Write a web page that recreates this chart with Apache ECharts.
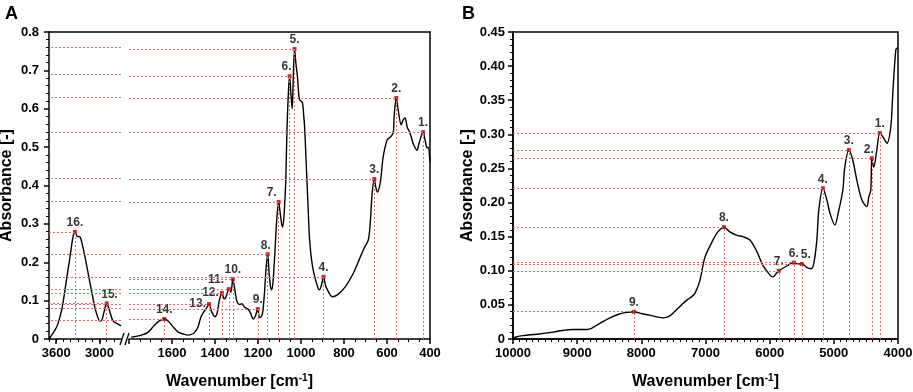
<!DOCTYPE html>
<html>
<head>
<meta charset="utf-8">
<script src="https://cdn.jsdelivr.net/npm/echarts@6.0.0/dist/echarts.min.js"></script>
<style>
  html, body { margin: 0; padding: 0; background: #fff; }
  #chart { width: 913px; height: 392px; }
</style>
</head>
<body>
<div id="chart"></div>
<script>
// ---- panel A, high-wavenumber segment (3700-2700 cm-1)
const wnA1 = [3700, 3617, 3575, 3519, 3478, 3436, 3408, 3367, 3340, 3311, 3269, 3242, 3200, 3131, 3061, 3019, 2992, 2964, 2936, 2900, 2853, 2811, 2742, 2700];
const absA1 = [0.000, 0.023, 0.040, 0.080, 0.128, 0.180, 0.214, 0.266, 0.279, 0.268, 0.266, 0.250, 0.214, 0.146, 0.081, 0.055, 0.047, 0.050, 0.070, 0.093, 0.070, 0.047, 0.039, 0.034];

// ---- panel A, fingerprint segment (1800-400 cm-1)
const wnA2 = [1790, 1743, 1710, 1682, 1659, 1636, 1618, 1594, 1571, 1548,
  1525, 1510, 1497, 1480, 1465, 1451, 1440, 1428, 1415, 1400,
  1390, 1380, 1368, 1358, 1350, 1335, 1326, 1317, 1308, 1298,
  1285, 1275, 1262, 1247, 1235, 1222, 1212, 1201, 1193, 1185,
  1178, 1170, 1163, 1155, 1148, 1141, 1136, 1130, 1122, 1113,
  1104, 1097, 1090, 1085, 1078, 1071, 1065, 1058, 1053, 1047,
  1041, 1036, 1030, 1024, 1016, 1008, 1000, 993, 987, 983,
  976, 969, 960, 946, 923, 914, 905, 895, 886, 877,
  854, 831, 794, 756, 724, 706, 687, 678, 669, 659,
  652, 645, 631, 618, 599, 585, 571, 567, 557, 548,
  534, 525, 516, 506, 493, 479, 460, 451, 432, 423,
  414, 409, 400];
const absA2 = [0.005, 0.010, 0.018, 0.036, 0.047, 0.052, 0.047, 0.031, 0.018, 0.013,
  0.010, 0.012, 0.016, 0.030, 0.058, 0.072, 0.080, 0.091, 0.070, 0.058,
  0.068, 0.100, 0.120, 0.105, 0.108, 0.130, 0.122, 0.156, 0.130, 0.098,
  0.090, 0.092, 0.083, 0.078, 0.068, 0.052, 0.060, 0.078, 0.056, 0.058,
  0.070, 0.120, 0.180, 0.221, 0.170, 0.133, 0.128, 0.150, 0.220, 0.310,
  0.357, 0.330, 0.300, 0.292, 0.330, 0.410, 0.550, 0.650, 0.685, 0.640,
  0.600, 0.680, 0.756, 0.720, 0.680, 0.625, 0.620, 0.615, 0.580, 0.550,
  0.460, 0.370, 0.260, 0.188, 0.136, 0.128, 0.140, 0.162, 0.140, 0.128,
  0.110, 0.115, 0.136, 0.172, 0.214, 0.237, 0.258, 0.302, 0.380, 0.417,
  0.395, 0.383, 0.409, 0.474, 0.519, 0.526, 0.537, 0.579, 0.628, 0.597,
  0.558, 0.571, 0.576, 0.552, 0.537, 0.511, 0.492, 0.510, 0.539, 0.519,
  0.498, 0.500, 0.461];

// ---- panel A peaks
const peakNumA = [1, 2, 3, 4, 5, 6, 7, 8, 9, 10, 11, 12, 13, 14, 15, 16];
const peakWnA = [432, 557, 659, 895, 1030, 1053, 1104, 1155, 1201, 1317, 1335, 1368, 1428, 1636, 2900, 3340];
const peakAbsA = [0.539, 0.628, 0.417, 0.162, 0.756, 0.685, 0.357, 0.221, 0.078, 0.156, 0.130, 0.120, 0.091, 0.052, 0.093, 0.279];

// ---- panel B spectrum (10000-4000 cm-1)
const wnB = [10000, 9953, 9844, 9626, 9377, 9268, 9065, 8847, 8769, 8645,
  8489, 8333, 8224, 8115, 7991, 7866, 7741, 7664, 7555, 7430,
  7352, 7290, 7243, 7165, 7087, 7009, 6900, 6807, 6713, 6620,
  6511, 6417, 6308, 6199, 6106, 5997, 5950, 5888, 5857, 5732,
  5623, 5561, 5498, 5421, 5358, 5312, 5265, 5234, 5171, 5109,
  5062, 4984, 4922, 4860, 4829, 4766, 4704, 4642, 4564, 4486,
  4455, 4424, 4408, 4377, 4330, 4283, 4221, 4174, 4112, 4081,
  4034, 4010];
const absB = [0.001, 0.003, 0.005, 0.007, 0.010, 0.012, 0.014, 0.014, 0.016, 0.023,
  0.031, 0.037, 0.039, 0.040, 0.037, 0.035, 0.032, 0.031, 0.034, 0.045,
  0.052, 0.057, 0.060, 0.067, 0.086, 0.120, 0.142, 0.157, 0.164, 0.157,
  0.152, 0.150, 0.145, 0.128, 0.108, 0.094, 0.091, 0.097, 0.100, 0.107,
  0.112, 0.110, 0.110, 0.105, 0.103, 0.111, 0.145, 0.189, 0.221, 0.204,
  0.185, 0.167, 0.189, 0.218, 0.252, 0.277, 0.262, 0.233, 0.204, 0.194,
  0.208, 0.218, 0.265, 0.252, 0.277, 0.302, 0.294, 0.287, 0.311, 0.360,
  0.424, 0.427];

// ---- panel B peaks
const peakNumB = [1, 2, 3, 4, 5, 6, 7, 8, 9];
const peakWnB = [4283, 4408, 4766, 5171, 5498, 5623, 5857, 6713, 8115];
const peakAbsB = [0.302, 0.265, 0.277, 0.221, 0.110, 0.112, 0.100, 0.164, 0.040];

// tick labels
const ticksA1 = [3600, 3000];
const ticksA2 = [400, 600, 800, 1000, 1200, 1400, 1600];

// label placement tweaks (style only)
const placeA = {
    6: { off: [-3, 0] }, 7: { off: [-7, 0] }, 8: { off: [-2, 0] },
    11: { pos: 'left', off: [-2, -9] }, 12: { pos: 'left' }, 13: { pos: 'left' },
    15: { off: [3, 0] }
};
const placeB = { 2: { off: [-3, 0] }, 5: { off: [4, 0] } };

const FONT = '"Liberation Sans", Arial, Helvetica, sans-serif';
const RED = '#e26b6b';
const GUIDE = { type: [2, 2], color: RED, width: 1, opacity: 1 };
const BLACK = { color: '#000', width: 1.5 };
const tickText = { fontFamily: FONT, fontWeight: 'bold', fontSize: 13, color: '#000', formatter: v => String(v) };
const nameText = {
    fontFamily: FONT, fontWeight: 'bold', fontSize: 16, color: '#000',
    rich: { sup: { fontFamily: FONT, fontWeight: 'bold', fontSize: 10, color: '#000', verticalAlign: 'top', padding: [0, 0, 7, 0] } }
};

function pairs(xs, ys) {
    return xs.map((x, i) => [x, ys[i]]);
}

function peakItems(nums, wns, abss, place) {
    return nums.map((n, i) => {
        const p = place[n] || {};
        return { value: [wns[i], abss[i], n], label: { position: p.pos || 'top', offset: p.off || [0, 0] } };
    });
}

// vertical line down to 0 and horizontal line back to the y edge
function guideLines(wns, abss, xEdge) {
    const out = [];
    wns.forEach((w, i) => {
        out.push([{ coord: [w, 0], lineStyle: GUIDE }, { coord: [w, abss[i]] }]);
        out.push([{ coord: [xEdge, abss[i]], lineStyle: GUIDE }, { coord: [w, abss[i]] }]);
    });
    return out;
}

function guideSeries(xi, yi, data) {
    return {
        type: 'line', xAxisIndex: xi, yAxisIndex: yi, data: [], silent: true, z: 1,
        color: RED, itemStyle: { color: RED }, lineStyle: { color: RED },
        markLine: {
            silent: true, symbol: 'none', animation: false,
            label: { show: false }, emphasis: { disabled: true },
            itemStyle: { color: RED },
            lineStyle: GUIDE, data: data
        }
    };
}

function curveSeries(xi, yi, data) {
    return {
        type: 'line', xAxisIndex: xi, yAxisIndex: yi, data: data,
        showSymbol: false, symbol: 'none', smooth: 0.3, silent: true, z: 3,
        lineStyle: { color: '#000', width: 1.4 }
    };
}

function peakSeries(xi, yi, data) {
    return {
        type: 'scatter', xAxisIndex: xi, yAxisIndex: yi, data: data,
        symbol: 'rect', symbolSize: 4, silent: true, z: 4,
        itemStyle: { color: '#c00000' },
        label: {
            show: true, distance: 1, formatter: p => p.value[2] + '.',
            fontFamily: FONT, fontWeight: 'bold', fontSize: 12, color: '#000'
        }
    };
}

// split panel A peaks over the two axis segments
const leftIdx = peakWnA.map((w, i) => i).filter(i => peakWnA[i] > 2000);
const rightIdx = peakWnA.map((w, i) => i).filter(i => peakWnA[i] <= 2000);
const pick = (arr, idx) => idx.map(i => arr[i]);

const chart = echarts.init(document.getElementById('chart'));

const option = {
    animation: false,
    backgroundColor: '#fff',
    title: [
        { text: 'A', left: 0, top: 0, textStyle: { fontFamily: FONT, fontWeight: 'bold', fontSize: 18, color: '#000' } },
        { text: 'B', left: 457, top: 0, textStyle: { fontFamily: FONT, fontWeight: 'bold', fontSize: 18, color: '#000' } }
    ],
    grid: [
        { left: 49, top: 32, width: 72, height: 307, outerBoundsMode: 'none' },   // A 3700-2700
        { left: 129, top: 32, width: 301, height: 307, outerBoundsMode: 'none' }, // A 1800-400
        { left: 49, top: 32, width: 381, height: 307, outerBoundsMode: 'none' },  // A frame
        { left: 513, top: 32, width: 385, height: 307, outerBoundsMode: 'none',
          show: true, borderColor: '#000', borderWidth: 1.5 }                     // B
    ],
    xAxis: [
        {
            gridIndex: 0, type: 'value', inverse: true, min: 2700, max: 3700, position: 'bottom',
            axisLine: { lineStyle: BLACK },
            axisTick: { customValues: ticksA1, length: 5, lineStyle: BLACK },
            axisLabel: { customValues: ticksA1, margin: 8, ...tickText },
            splitLine: { show: false }
        },
        {
            gridIndex: 0, type: 'value', inverse: true, min: 2700, max: 3700, interval: 100, position: 'bottom',
            axisLine: { show: false },
            axisTick: { length: 3, lineStyle: { color: '#000', width: 1 } },
            axisLabel: { show: false },
            splitLine: { show: false }
        },
        {
            gridIndex: 1, type: 'value', inverse: true, min: 400, max: 1800, interval: 200, position: 'bottom',
            axisLine: { lineStyle: BLACK },
            axisTick: { length: 5, lineStyle: BLACK },
            minorTick: { show: true, splitNumber: 4, length: 3, lineStyle: { color: '#000', width: 1 } },
            axisLabel: { customValues: ticksA2, margin: 8, ...tickText },
            splitLine: { show: false }, minorSplitLine: { show: false }
        },
        {
            gridIndex: 2, type: 'value', min: 0, max: 1, position: 'top',
            axisLine: { onZero: false, lineStyle: BLACK },
            axisTick: { show: false }, axisLabel: { show: false }, splitLine: { show: false }
        },
        {
            gridIndex: 2, type: 'value', min: 0, max: 1, position: 'bottom',
            axisLine: { show: false }, axisTick: { show: false }, axisLabel: { show: false }, splitLine: { show: false },
            name: 'Wavenumber [cm{sup|-1}]', nameLocation: 'middle', nameGap: 34, nameTextStyle: nameText
        },
        {
            gridIndex: 3, type: 'value', inverse: true, min: 4000, max: 10000, interval: 1000,
            axisLine: { lineStyle: BLACK },
            axisTick: { length: 5, lineStyle: BLACK },
            minorTick: { show: true, splitNumber: 10, length: 3, lineStyle: { color: '#000', width: 1 } },
            axisLabel: { margin: 8, ...tickText },
            splitLine: { show: false }, minorSplitLine: { show: false },
            name: 'Wavenumber [cm{sup|-1}]', nameLocation: 'middle', nameGap: 34, nameTextStyle: nameText
        }
    ],
    yAxis: [
        {
            gridIndex: 0, type: 'value', min: 0, max: 0.8, interval: 0.1,
            axisLine: { lineStyle: BLACK },
            axisTick: { length: 5, lineStyle: BLACK },
            minorTick: { show: true, splitNumber: 5, length: 3, lineStyle: { color: '#000', width: 1 } },
            axisLabel: { margin: 10, ...tickText, formatter: v => (v === 0 ? '0' : v.toFixed(1)) },
            splitLine: { show: false }, minorSplitLine: { show: false },
            name: 'Absorbance [-]', nameLocation: 'middle', nameGap: 34, nameTextStyle: nameText
        },
        { gridIndex: 1, type: 'value', min: 0, max: 0.8, show: false },
        {
            gridIndex: 2, type: 'value', min: 0, max: 1, position: 'right',
            axisLine: { onZero: false, lineStyle: BLACK },
            axisTick: { show: false }, axisLabel: { show: false }, splitLine: { show: false }
        },
        {
            gridIndex: 3, type: 'value', min: 0, max: 0.45, interval: 0.05,
            axisLine: { lineStyle: BLACK },
            axisTick: { length: 5, lineStyle: BLACK },
            minorTick: { show: true, splitNumber: 5, length: 3, lineStyle: { color: '#000', width: 1 } },
            axisLabel: { margin: 8, ...tickText, formatter: v => (v === 0 ? '0' : v.toFixed(2)) },
            splitLine: { show: false }, minorSplitLine: { show: false },
            name: 'Absorbance [-]', nameLocation: 'middle', nameGap: 36, nameTextStyle: nameText
        }
    ],
    graphic: [
        // axis break marks on panel A
        { type: 'line', shape: { x1: 120, y1: 345, x2: 124, y2: 333 }, style: { stroke: '#000', lineWidth: 1.3 } },
        { type: 'line', shape: { x1: 125, y1: 345, x2: 129, y2: 333 }, style: { stroke: '#000', lineWidth: 1.3 } }
    ],
    series: [
        // panel A, left segment
        guideSeries(0, 0,
            guideLines(pick(peakWnA, leftIdx), pick(peakAbsA, leftIdx), 3700)
                .concat(pick(peakAbsA, rightIdx).map(v => ({ yAxis: v, lineStyle: GUIDE })))),
        curveSeries(0, 0, pairs(wnA1, absA1)),
        peakSeries(0, 0, peakItems(pick(peakNumA, leftIdx), pick(peakWnA, leftIdx), pick(peakAbsA, leftIdx), placeA)),
        // panel A, right segment
        guideSeries(2, 1, guideLines(pick(peakWnA, rightIdx), pick(peakAbsA, rightIdx), 1800)),
        curveSeries(2, 1, pairs(wnA2, absA2)),
        peakSeries(2, 1, peakItems(pick(peakNumA, rightIdx), pick(peakWnA, rightIdx), pick(peakAbsA, rightIdx), placeA)),
        // panel B
        guideSeries(5, 3, guideLines(peakWnB, peakAbsB, 10000)),
        curveSeries(5, 3, pairs(wnB, absB)),
        peakSeries(5, 3, peakItems(peakNumB, peakWnB, peakAbsB, placeB))
    ]
};

chart.setOption(option);
window.addEventListener('resize', () => chart.resize());
</script>
</body>
</html>
